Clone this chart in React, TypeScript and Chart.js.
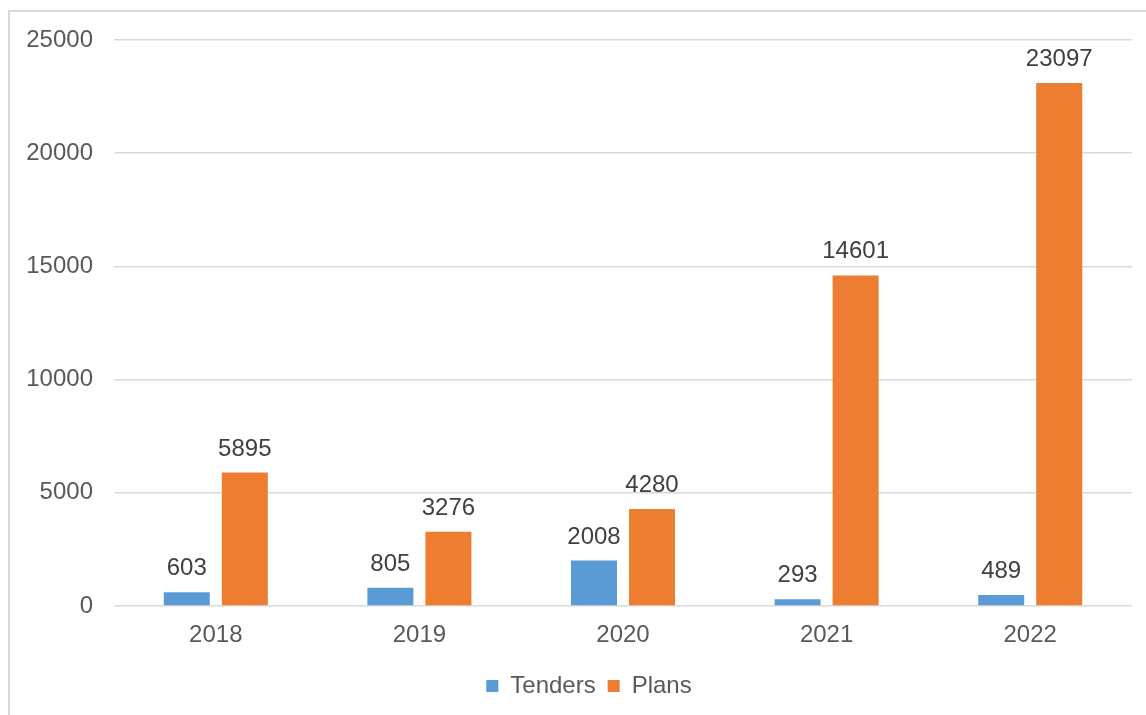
import React, { useEffect, useRef } from "react";
import { Chart, registerables } from "chart.js";

Chart.register(...registerables);

const categories = ["2018", "2019", "2020", "2021", "2022"];
const tenders = [603, 805, 2008, 293, 489];
const plans = [5895, 3276, 4280, 14601, 23097];
const seriesNames = ["Tenders", "Plans"];
const yTicks = [0, 5000, 10000, 15000, 20000, 25000];

const FONT = "'Liberation Sans', Arial, sans-serif";

const valueLabels = {
  id: "valueLabels",
  afterLayout(chart: any) {
    if (chart.legend) chart.legend.left = 46;
  },
  afterDatasetsDraw(chart: any) {
    const ctx = chart.ctx;
    ctx.save();
    ctx.font = `24px ${FONT}`;
    ctx.fillStyle = "#404040";
    ctx.textAlign = "center";
    ctx.textBaseline = "alphabetic";
    chart.data.datasets.forEach((ds: any, i: number) => {
      const meta = chart.getDatasetMeta(i);
      meta.data.forEach((bar: any, j: number) => {
        ctx.fillText(String(ds.data[j]), bar.x, bar.y - 17);
      });
    });
    ctx.restore();
  },
};

export default function App() {
  const ref = useRef<HTMLCanvasElement>(null);
  useEffect(() => {
    document.body.style.overflow = "hidden";
    const chart = new Chart(ref.current!, {
      type: "bar",
      data: {
        labels: categories,
        datasets: [
          {
            label: seriesNames[0],
            data: tenders,
            backgroundColor: "#5B9BD5",
            categoryPercentage: 0.57,
            barPercentage: 0.793,
          },
          {
            label: seriesNames[1],
            data: plans,
            backgroundColor: "#ED7D31",
            categoryPercentage: 0.57,
            barPercentage: 0.793,
          },
        ],
      },
      options: {
        animation: false,
        responsive: false,
        layout: { padding: { top: 40, right: 14, bottom: 7, left: 0 } },
        plugins: {
          tooltip: { enabled: false },
          legend: {
            position: "bottom",
            labels: {
              boxWidth: 12,
              boxHeight: 12,
              padding: 12,
              color: "#595959",
              font: { size: 24, family: FONT },
            },
          },
        },
        scales: {
          x: {
            grid: { display: false, drawTicks: false },
            border: { display: false },
            ticks: { color: "#595959", padding: 15, font: { size: 24, family: FONT } },
            afterFit(scale: any) {
              scale.height = 56;
            },
          },
          y: {
            min: 0,
            max: 25000,
            afterBuildTicks(scale: any) {
              scale.ticks = yTicks.map((v) => ({ value: v }));
            },
            grid: { color: "#d9d9d9", lineWidth: 1.5, drawTicks: false },
            border: { display: false },
            ticks: {
              color: "#595959",
              padding: 21,
              font: { size: 24, family: FONT },
              callback: (v: any) => String(v),
            },
            afterFit(scale: any) {
              scale.width = 114;
            },
          },
        },
      },
      plugins: [valueLabels],
    } as any);
    return () => chart.destroy();
  }, []);

  return (
    <div style={{ position: "fixed", left: 0, top: 0, width: 1146, height: 715, background: "#fff" }}>
      <canvas ref={ref} width={1146} height={715} style={{ position: "absolute", left: 0, top: 0 }} />
      <div
        style={{
          position: "absolute",
          left: 8,
          top: 10,
          width: 1200,
          height: 800,
          borderTop: "2px solid #d9d9d9",
          borderLeft: "2px solid #d9d9d9",
          pointerEvents: "none",
        }}
      />
    </div>
  );
}
